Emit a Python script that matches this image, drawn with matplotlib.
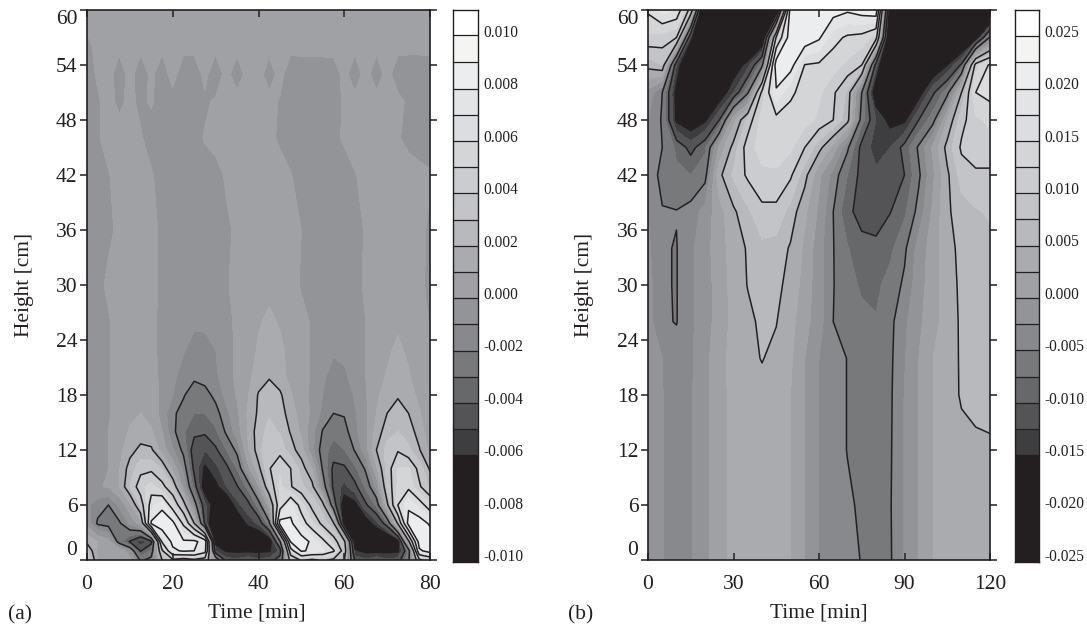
import numpy as np
import matplotlib
matplotlib.use("Agg")
import matplotlib.pyplot as plt
from matplotlib.colors import ListedColormap, BoundaryNorm

plt.rcParams['font.family'] = ['Liberation Serif', 'DejaVu Serif']
plt.rcParams['contour.negative_linestyle'] = 'solid'

W, H = 1087, 627
INK = '#231f20'

# grey of each colour band, bottom to top
band_greys = ['#231f20', '#231f20', '#231f20', '#231f20', '#3e3d3f', '#545355', '#67686a', '#78797b',
              '#88898c', '#939497', '#a0a1a5', '#aaabae', '#b8b9bc', '#c3c4c7', '#cbcccf', '#d4d5d7',
              '#dcdde0', '#e3e4e6', '#ecedee', '#f4f5f3', '#ffffff']

# band edges, in units of 1e-3
edges_a = [-10.27, -9.25, -8.2, -7.2, -6.2, -5.2, -4.2, -3.2, -2.2, -1.2, -0.2, 0.8, 1.8, 2.8, 3.8, 4.8, 5.8, 6.8, 7.8, 8.8, 9.85, 10.8]
edges_b = [-25.7, -23.1, -20.5, -18.0, -15.5, -13.0, -10.5, -8.0, -5.5, -3.0, -0.5, 2.0, 4.5, 7.0, 9.5, 12.0, 14.5, 17.0, 19.5, 22.0, 24.5, 27.0]
lines_a = [-6.2, -4.2, -2.2, 1.8, 3.8, 5.8, 7.8]
lines_b = [-15.5, -10.5, -5.5, 4.5, 9.5, 14.5, 19.5]
ticks_a = [-10, -8, -6, -4, -2, 0, 2, 4, 6, 8, 10]
ticks_b = [-25, -20, -15, -10, -5, 0, 5, 10, 15, 20, 25]

time_a = [0, 2.5, 5, 7.5, 10, 12.5, 15, 17.5, 20, 22.5, 25, 27.5, 30, 32.5, 35, 37.5, 40, 42.5, 45, 47.5, 50, 52.5, 55, 57.5, 60, 62.5, 65, 67.5, 70, 72.5, 75, 77.5, 80]
height_a = [0, 1, 2, 4, 6, 8, 10, 12, 14, 16, 18, 20, 23, 26, 30, 36, 42, 46, 50, 53, 56, 60]
field_a = [
    [4.0, 0.8, 0.8, 0.8, 0.2, -2.4, -1.8, 1.8, 3.5, 3.0, 3.5, 3.0, -0.8, -4.8, -5.0, -4.5, -5.0, -4.8, -3.5, 2.5, 4.0, 3.5, 4.0, 3.5, 1.8, -4.5, -5.0, -4.5, -5.0, -4.8, -2.5, 3.5, 4.5],
    [3.0, 0.5, 0.8, 0.8, -1.0, -4.3, -3.0, 3.5, 7.5, 8.0, 7.8, 6.5, -5.3, -6.3, -6.4, -6.4, -6.4, -6.3, -5.0, 5.0, 8.0, 7.5, 7.0, 6.0, 3.0, -6.0, -6.5, -6.5, -6.5, -6.4, -3.0, 7.5, 8.5],
    [1.5, 0.8, 0.3, -2.8, -4.3, -5.8, -4.6, 6.0, 8.2, 8.0, 8.2, 7.0, -6.6, -8.0, -8.5, -8.5, -8.0, -7.0, -2.5, 7.9, 8.5, 7.5, 6.2, 4.5, 2.4, -7.0, -8.5, -8.5, -8.0, -6.8, 1.4, 8.6, 8.8],
    [-0.5, -2.4, -2.7, -2.4, -1.0, 0.3, 8.0, 8.8, 8.2, 5.5, 1.8, -4.5, -8.5, -8.5, -7.5, -5.8, -5.0, -2.5, 8.5, 8.1, 6.5, 5.0, 3.4, 2.0, -6.8, -8.0, -7.0, -5.5, -3.5, 2.0, 8.5, 8.5, 7.6],
    [-1.0, -1.7, -2.2, -1.0, 0.5, 3.0, 6.5, 7.4, 5.0, 2.5, -1.5, -5.0, -7.0, -7.5, -5.5, -4.6, -2.8, 0.2, 5.0, 7.2, 5.2, 3.4, 2.3, -3.4, -7.0, -6.6, -4.4, -3.0, 1.5, 5.8, 7.5, 6.5, 5.0],
    [-0.5, -0.3, -0.1, 0.8, 2.8, 4.5, 5.2, 4.2, 2.8, -0.5, -3.6, -7.0, -6.5, -5.2, -4.3, -2.9, -0.3, 2.9, 5.0, 3.9, 3.0, 2.2, -1.5, -4.5, -5.5, -4.5, -3.0, -1.0, 2.9, 5.0, 5.5, 4.0, 2.6],
    [-0.6, -0.4, -0.2, 0.7, 2.3, 3.4, 3.5, 2.7, 0.5, -1.5, -4.5, -6.4, -5.5, -4.5, -3.1, -0.5, 1.5, 3.7, 4.7, 3.8, 2.4, 0.7, -2.4, -4.5, -4.4, -3.4, -2.0, 0.6, 3.2, 4.8, 4.9, 3.4, 1.6],
    [-0.7, -0.5, -0.2, 0.5, 1.4, 2.1, 2.0, 0.4, -1.1, -2.5, -4.9, -5.2, -4.4, -3.2, -1.9, 0.6, 2.4, 3.7, 3.4, 2.3, 1.2, -0.9, -2.8, -3.6, -3.2, -2.1, -0.6, 1.8, 3.2, 3.7, 3.0, 1.9, 0.5],
    [-0.7, -0.5, -0.2, 0.3, 0.9, 1.2, 0.9, -0.2, -1.9, -3.1, -3.9, -4.0, -3.4, -2.0, -0.7, 0.9, 2.4, 3.1, 2.7, 1.7, 0.6, -0.9, -2.3, -2.9, -2.6, -1.5, -0.4, 1.2, 2.4, 2.8, 2.4, 1.3, 0.2],
    [-0.7, -0.6, -0.3, 0.2, 0.6, 0.8, 0.5, -0.6, -2.0, -2.6, -3.2, -3.2, -2.6, -1.5, -0.4, 0.9, 2.0, 2.7, 2.4, 1.2, 0.4, -0.4, -1.5, -2.2, -2.1, -1.3, -0.4, 0.8, 1.8, 2.2, 1.8, 0.9, 0.0],
    [-0.7, -0.6, -0.3, 0.2, 0.5, 0.6, 0.3, -0.4, -1.2, -2.1, -2.8, -2.6, -1.9, -0.9, -0.1, 0.7, 1.9, 2.4, 2.0, 0.9, 0.2, -0.4, -1.2, -1.9, -1.8, -1.1, -0.3, 0.6, 1.3, 1.7, 1.3, 0.5, -0.2],
    [-0.7, -0.6, -0.3, 0.2, 0.4, 0.5, 0.1, -0.4, -1.0, -1.6, -2.0, -1.8, -1.4, -0.6, 0.0, 0.5, 1.3, 1.7, 1.2, 0.5, 0.1, -0.3, -1.0, -1.7, -1.4, -0.8, -0.2, 0.4, 0.9, 1.4, 0.9, 0.3, -0.3],
    [-0.7, -0.6, -0.3, 0.2, 0.4, 0.4, 0.0, -0.4, -0.8, -1.1, -1.6, -1.5, -1.2, -0.6, 0.0, 0.4, 0.9, 1.3, 1.0, 0.5, 0.1, -0.3, -0.7, -1.0, -0.9, -0.7, -0.2, 0.3, 0.6, 1.0, 0.6, 0.3, -0.3],
    [-0.7, -0.6, -0.3, 0.2, 0.4, 0.4, 0.0, -0.4, -0.7, -0.8, -1.0, -1.0, -0.9, -0.5, 0.0, 0.4, 0.7, 1.0, 0.7, 0.4, 0.1, -0.3, -0.6, -0.7, -0.7, -0.6, -0.2, 0.3, 0.5, 0.6, 0.5, 0.3, -0.3],
    [-0.7, -0.5, 0.0, 0.3, 0.4, 0.4, 0.1, -0.4, -0.7, -0.8, -0.9, -0.9, -0.7, -0.3, 0.1, 0.3, 0.4, 0.5, 0.4, 0.2, -0.3, -0.6, -0.8, -0.9, -0.8, -0.6, 0.0, 0.3, 0.4, 0.5, 0.4, 0.1, -0.5],
    [-0.7, -0.6, -0.4, 0.0, 0.3, 0.4, 0.1, -0.4, -0.7, -0.8, -0.9, -0.9, -0.7, -0.4, 0.0, 0.3, 0.4, 0.5, 0.4, 0.3, -0.2, -0.5, -0.8, -0.9, -0.8, -0.6, -0.1, 0.2, 0.4, 0.5, 0.4, 0.1, -0.4],
    [-0.7, -0.5, -0.25, 0.1, 0.3, 0.3, -0.1, -0.6, -0.8, -0.9, -0.9, -0.8, -0.6, -0.05, 0.2, 0.4, 0.4, 0.4, 0.3, -0.15, -0.6, -0.8, -0.9, -0.9, -0.7, -0.25, 0.1, 0.3, 0.4, 0.4, 0.3, 0.1, -0.1],
    [-0.6, -0.3, 0.1, 0.2, 0.2, -0.1, -0.6, -0.8, -0.8, -0.8, -0.6, -0.1, 0.2, 0.3, 0.3, 0.3, 0.3, 0.1, -0.4, -0.7, -0.8, -0.8, -0.7, -0.5, -0.05, 0.2, 0.3, 0.3, 0.3, -0.1, -0.5, -0.7, -0.7],
    [-0.6, -0.3, 0.1, -0.4, 0.0, -0.4, -0.1, -0.6, -0.7, -0.7, -0.6, -0.4, -0.05, 0.2, 0.3, 0.3, 0.3, 0.2, -0.3, -0.6, -0.7, -0.7, -0.6, -0.5, -0.1, 0.2, 0.3, 0.3, 0.3, 0.1, -0.4, -0.5, -0.5],
    [-0.5, -0.1, 0.3, -0.9, 0.3, -0.9, 0.1, -0.9, 0.3, -0.9, -0.8, 0.1, -0.9, 0.2, -0.9, 0.3, 0.3, -0.8, 0.2, -0.9, -0.9, -0.7, -0.7, -0.8, 0.2, -0.9, 0.3, -0.9, 0.2, -0.8, -0.9, -0.9, -0.8],
    [-0.4, 0.0, 0.1, 0.1, 0.2, 0.1, 0.2, 0.1, 0.2, 0.1, 0.1, 0.2, 0.1, 0.2, 0.2, 0.1, 0.2, 0.2, 0.1, 0.1, 0.2, 0.1, 0.1, 0.2, 0.2, 0.1, 0.2, 0.1, 0.2, 0.1, 0.1, 0.1, 0.1],
    [0.2, 0.2, 0.2, 0.2, 0.2, 0.2, 0.2, 0.2, 0.2, 0.2, 0.2, 0.2, 0.2, 0.2, 0.2, 0.2, 0.2, 0.2, 0.2, 0.2, 0.2, 0.2, 0.2, 0.2, 0.2, 0.2, 0.2, 0.2, 0.2, 0.2, 0.2, 0.2, 0.2],
]

time_b = [0, 5, 10, 15, 20, 25, 30, 35, 40, 45, 50, 55, 60, 65, 70, 75, 80, 85, 90, 95, 100, 105, 110, 115, 120]
height_b = [0, 6, 12, 18, 22, 26, 30, 34, 38, 42, 45, 48, 51, 54, 57, 60]
field_b = [
    [-2, -2.8, -4.5, -3.3, -1.2, 1, 2.8, 3.2, 3.4, 3.2, 2, -0.6, -3, -4.2, -4.8, -5.6, -7, -5.8, -2.7, -0.4, 2, 3, 3.2, 3.2, 3.2],
    [-2, -2.8, -4.5, -3.3, -1.2, 1, 2.8, 3.4, 3.6, 3.4, 2, -0.6, -3, -4.2, -5, -6, -7, -5.7, -2.7, -0.4, 2, 3, 3.3, 3.3, 3.3],
    [-2, -2.9, -4.5, -3.3, -1.2, 1, 2.8, 3.4, 3.6, 3.4, 2, -0.6, -3, -4.2, -5.6, -6.5, -7.2, -5.8, -2.8, -0.4, 2, 3, 3.6, 4, 4.2],
    [-2, -2.9, -4.5, -3.3, -1.2, 1, 2.8, 3.4, 3.8, 3.4, 2, -0.6, -3, -4.2, -5.6, -6.6, -7.4, -5.9, -2.9, -0.4, 2, 3.2, 4.8, 5.2, 5.2],
    [-2, -3, -4.5, -3.4, -1.2, 1, 3, 3.9, 4.6, 3.9, 2.4, -0.5, -3, -4.2, -5.6, -6.8, -7.6, -6, -3.2, -0.5, 2, 3.4, 4.8, 5.4, 5.4],
    [-2, -5.2, -5.6, -3.5, -1.5, 0.5, 2.8, 3.9, 5, 4.6, 2.8, 0.4, -2, -5.5, -6.5, -7.3, -7.8, -6.2, -3.5, -1, 1, 3.2, 4.9, 5.6, 5.6],
    [-2, -5.3, -5.6, -3.5, -1.5, 0.5, 3, 4.6, 5.6, 5.2, 3.6, 1, -2, -5.4, -7, -8.4, -8.6, -7, -5, -1.5, 0.8, 3.4, 5, 5.8, 6],
    [-2.5, -5.3, -5.6, -3.5, -1.5, 1, 3, 4.8, 6.4, 6, 4.2, 1.5, -2, -5.4, -7.8, -9.8, -10, -8.6, -6, -2, 0.8, 3.6, 5.2, 6, 6.5],
    [-3, -5.3, -5.4, -4.5, -2, 1, 4, 6.5, 8.8, 8.8, 6, 2.5, -1, -5.5, -10, -11.3, -11.5, -10.6, -8.5, -4.5, 0, 4, 6, 6.8, 7.2],
    [-3.5, -6.5, -7.5, -8, -6.5, 3.8, 7.5, 10, 11.5, 11.5, 10, 5.5, 0, -4, -8, -11.5, -12.5, -12, -10.5, -6, -1, 4, 8, 9, 9],
    [-3, -5.5, -8.5, -11.5, -8.5, 0, 5.5, 11, 13, 13.5, 12.5, 9.5, 5.5, 1, -5, -11.5, -14, -13, -9.5, -5, 0, 5.5, 10, 11, 11],
    [-3, -5.8, -16, -18, -16, -10.5, 1, 7.8, 13, 13.5, 13.4, 13, 11.5, 9.5, 5.5, -7, -13, -16.5, -16, -10.5, -6.5, 2, 8.5, 11.5, 12.5],
    [-1.5, -5.5, -16.5, -20, -20, -18, -13, -6, 10.5, 19, 15, 13.5, 12.5, 10, 6.5, -5.5, -18, -22, -20, -17, -11, -6.5, 4.5, 14.5, 15.5],
    [5.5, 7, -13, -22, -24, -22, -18, -14, -6.5, 22, 21, 14.4, 14, 13, 11.5, 9.5, -12, -24, -24, -22, -19, -15.5, -10, 11, 15],
    [11.5, 11, 9.5, -14, -25, -25, -25, -24, -20, 10, 22, 22, 20, 15.5, 14, 13.5, 11, -22, -25, -25, -25, -24, -22, -17, -5],
    [15, 18, 17, 8, -25, -25, -25, -25, -25, -20, 22, 22, 22, 21, 20, 21, 22, -18, -25, -25, -25, -25, -25, -25, -25],
]


def px_rect(x0, x1, y0, y1):
    # pixel box (y from the top) to figure fractions
    return [x0 / W, 1 - y1 / H, (x1 - x0) / W, (y1 - y0) / H]


def draw_panel(ax, t, h, z, edges, lines, xticks):
    cmap = ListedColormap(band_greys)
    norm = BoundaryNorm(edges, cmap.N)
    ax.contourf(t, h, np.array(z), levels=edges, cmap=cmap, norm=norm)
    ax.contour(t, h, np.array(z), levels=lines, colors=INK, linewidths=1.1)
    ax.set_xlim(xticks[0], xticks[-1])
    ax.set_ylim(0, 60)
    ax.set_xticks(xticks)
    ax.set_yticks(range(0, 61, 6))
    ax.tick_params(axis='x', direction='in', top=True, length=5, width=1.1, color=INK, labelsize=15.5, labelcolor=INK, pad=11)
    ax.tick_params(axis='y', direction='out', right=True, length=5, width=1.1, color=INK, labelsize=15.5, labelcolor=INK, pad=2)
    labels = ax.get_yticklabels()
    labels[0].set_va('bottom')
    labels[-1].set_va('top')
    for s in ax.spines.values():
        s.set_linewidth(1.2)
        s.set_color(INK)


def draw_bar(cax, edges, ticks):
    cmap = ListedColormap(band_greys)
    norm = BoundaryNorm(edges, cmap.N)
    vals = [[(edges[i] + edges[i + 1]) / 2] for i in range(len(edges) - 1)]
    cax.pcolormesh([0, 1], edges, vals, cmap=cmap, norm=norm)
    cax.hlines(edges[1:-1], 0, 1, color=INK, linewidth=0.9)
    cax.set_xticks([])
    cax.yaxis.tick_right()
    cax.set_yticks(ticks)
    cax.set_yticklabels(['%.3f' % (v / 1000) for v in ticks])
    cax.tick_params(axis='y', length=0, labelsize=11.2, labelcolor=INK, pad=4)
    for s in cax.spines.values():
        s.set_linewidth(1.0)
        s.set_color(INK)


fig = plt.figure(figsize=(W / 100, H / 100), dpi=100)

ax_a = fig.add_axes(px_rect(87, 430, 10, 560))
draw_panel(ax_a, time_a, height_a, field_a, edges_a, lines_a, [0, 20, 40, 60, 80])
ax_b = fig.add_axes(px_rect(648, 990, 10, 560))
draw_panel(ax_b, time_b, height_b, field_b, edges_b, lines_b, [0, 30, 60, 90, 120])

cax_a = fig.add_axes(px_rect(453, 478, 10, 562))
draw_bar(cax_a, edges_a, ticks_a)
cax_b = fig.add_axes(px_rect(1015, 1039, 10, 562))
draw_bar(cax_b, edges_b, ticks_b)

for x, y, s, rot in [(257, 613, 'Time [min]', 0), (819, 613, 'Time [min]', 0),
                     (24, 285, 'Height [cm]', 90), (585, 285, 'Height [cm]', 90)]:
    fig.text(x / W, 1 - y / H, s, ha='center', va='center', rotation=rot, fontsize=15.4, color=INK)
fig.text(8 / W, 1 - 615 / H, '(a)', ha='left', va='center', fontsize=15.4, color=INK)
fig.text(568 / W, 1 - 615 / H, '(b)', ha='left', va='center', fontsize=15.4, color=INK)

fig.savefig('out.png', dpi=100)
